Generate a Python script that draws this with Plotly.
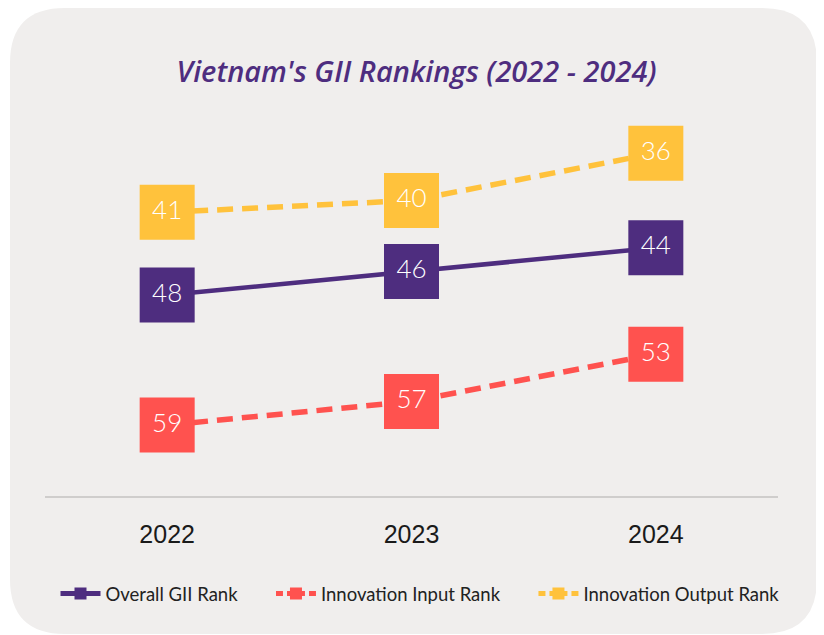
import plotly.graph_objects as go

years = ["2022", "2023", "2024"]
overall_rank = [48, 46, 44]
input_rank = [59, 57, 53]
output_rank = [41, 40, 36]

PURPLE = "#4E2D7F"
RED = "#FF524F"
YELLOW = "#FFC23C"
BG = "#F0EEED"

OFF = 8  # page body margin
W, H = 824 - OFF, 635 - OFF
ML, MR, MT, MB = 45 - OFF, 46, 100 - OFF, 139
PW, PH = W - ML - MR, H - MT - MB


def px(x):
    return (x - OFF - ML) / PW


def py(y):
    return (H - MB - (y - OFF)) / PH


fig = go.Figure()

series = [
    ("Overall GII Rank", overall_rank, PURPLE, "solid", 4.5),
    ("Innovation Input Rank", input_rank, RED, "16px,9px", 5.5),
    ("Innovation Output Rank", output_rank, YELLOW, "16px,9px", 5.5),
]

for name, vals, col, dash, lw in series:
    fig.add_trace(go.Scatter(
        x=years, y=vals, mode="lines+markers+text",
        text=[str(v) for v in vals], textposition="middle center",
        textfont=dict(family="Lato", size=26, color="white", weight=300),
        line=dict(color=col, width=lw, dash=dash),
        marker=dict(symbol="square", size=55, color=col, line=dict(width=0)),
        showlegend=False, hoverinfo="skip", cliponaxis=False,
    ))

PAD = "\u00a0" * 6
legend_names = ["Overall GII Rank" + PAD, "Innovation Input Rank" + PAD,
                "Innovation Output Rank"]
for (name, vals, col, dash, lw), lname in zip(series, legend_names):
    fig.add_trace(go.Scatter(
        x=[None], y=[None], mode="lines+markers", name=lname,
        line=dict(color=col, width=5, dash=("solid" if dash == "solid" else "7px,4px")),
        marker=dict(symbol="square", size=12, color=col),
    ))

# rounded background panel
L, R, T, B, r = 10, 817, 8, 634, 55
path = (
    f"M {px(L + r)},{py(T)} L {px(R - r)},{py(T)} "
    f"Q {px(R)},{py(T)} {px(R)},{py(T + r)} "
    f"L {px(R)},{py(B - r)} Q {px(R)},{py(B)} {px(R - r)},{py(B)} "
    f"L {px(L + r)},{py(B)} Q {px(L)},{py(B)} {px(L)},{py(B - r)} "
    f"L {px(L)},{py(T + r)} Q {px(L)},{py(T)} {px(L + r)},{py(T)} Z"
)

fig.update_layout(
    width=W, height=H,
    margin=dict(l=ML, r=MR, t=MT, b=MB, autoexpand=False),
    paper_bgcolor="white", plot_bgcolor="rgba(0,0,0,0)",
    shapes=[dict(type="path", xref="paper", yref="paper", path=path,
                 fillcolor=BG, line=dict(width=0), layer="below")],
    title=dict(text="Vietnam's GII Rankings (2022 - 2024)",
               x=px(412), xanchor="center", y=1 - (72 - OFF) / H, yanchor="middle",
               font=dict(family="Open Sans", size=29, color=PURPLE, weight=600,
                         style="italic")),
    xaxis=dict(range=[-0.5, 2.5], showgrid=False, zeroline=False,
               showline=True, linecolor="#CFCDCC", linewidth=1.5,
               ticks="", ticklabelstandoff=15,
               tickfont=dict(family="Liberation Sans", size=25, color="#1a1a1a")),
    yaxis=dict(range=[65.0, 31.5], visible=False, showgrid=False, zeroline=False),
    legend=dict(orientation="h", x=px(420), xanchor="center", y=py(594), yanchor="middle",
                font=dict(family="Lato", size=18.5, color="#222"),
                bgcolor="rgba(0,0,0,0)", itemwidth=40),
    font=dict(family="Lato"),
)

fig.write_html("out.html")
